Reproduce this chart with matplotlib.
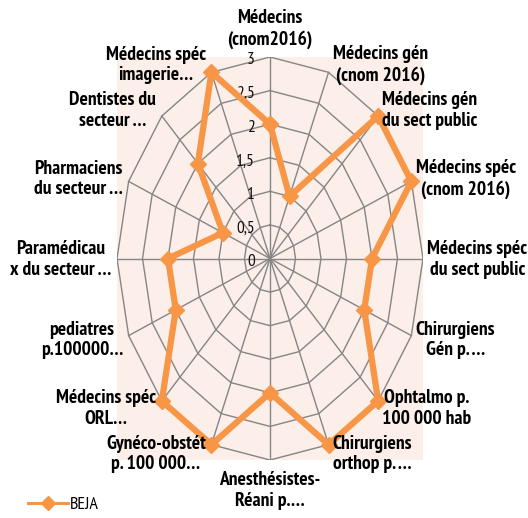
import numpy as np
import matplotlib
matplotlib.use('Agg')
import matplotlib.pyplot as plt
from matplotlib import font_manager
from matplotlib.lines import Line2D

# categories, clockwise from the top
categories = ['Médecins\n(cnom2016)', 'Médecins gén\n(cnom 2016)', 'Médecins gén\ndu sect public',
              'Médecins spéc\n(cnom 2016)', 'Médecins spéc\ndu sect public', 'Chirurgiens\nGén p. …',
              'Ophtalmo p.\n100 000 hab', 'Chirurgiens\northop p. …', 'Anesthésistes-\nRéani p.…',
              'Gynéco-obstét\np. 100 000…', 'Médecins spéc\nORL…', 'pediatres\np.100000…',
              'Paramédicau\nx du secteur …', 'Pharmaciens\ndu secteur …', 'Dentistes du\nsecteur …',
              'Médecins spéc\nimagerie…']
beja = [2, 1, 3, 3, 2, 2, 3, 3, 2, 3, 3, 2, 2, 1, 2, 3]
ticks = [0, 0.5, 1, 1.5, 2, 2.5, 3]
tick_labels = ['0', '0,5', '1', '1,5', '2', '2,5', '3']
series_name = 'BEJA'

# a narrow face, the original labels are squeezed horizontally
installed = {f.name for f in font_manager.fontManager.ttflist}
narrow = 'DejaVu Sans'
for cand in ['PT Sans Narrow', 'Liberation Sans Narrow', 'Archivo Narrow', 'Roboto Condensed',
             'Fira Sans Condensed', 'Open Sans Condensed', 'Asap Condensed', 'Barlow Semi Condensed']:
    if cand in installed:
        narrow = cand
        break
plt.rcParams['font.family'] = [narrow, 'DejaVu Sans']

orange = '#F79646'
grid_col = '#858585'
rmax = ticks[-1]
lab_size = 14 if narrow != 'DejaVu Sans' else 10
lsp = 1.2

fig = plt.figure(figsize=(5.28, 5.18), dpi=100)
# plot area box (bounding box of the outer ring)
ax = fig.add_axes([117/528, 58/518, 306/528, 403/518])
ax.set_facecolor('#FCEEE8')
for s in ax.spines.values():
    s.set_visible(False)
ax.set_xticks([])
ax.set_yticks([])
ax.set_xlim(-rmax, rmax)
ax.set_ylim(-rmax, rmax)

n = len(categories)
theta = 2*np.pi*np.arange(n)/n
sx, sy = np.sin(theta), np.cos(theta)

# grid rings and spokes
for r in ticks[1:]:
    ax.plot(np.append(r*sx, r*sx[0]), np.append(r*sy, r*sy[0]), color=grid_col, lw=1.0, zorder=1)
for i in range(n):
    ax.plot([0, rmax*sx[i]], [0, rmax*sy[i]], color=grid_col, lw=1.0, zorder=1)

# value labels along the top spoke
for t, lab in zip(ticks, tick_labels):
    ax.annotate(lab, (0, t), xytext=(-11, -2.5), textcoords='offset points',
                ha='right', va='center', fontsize=12.5, color='#111111', annotation_clip=False)

# series
v = np.array(beja, dtype=float)
ax.plot(np.append(v*sx, v[0]*sx[0]), np.append(v*sy, v[0]*sy[0]), color=orange, lw=4.5,
        marker='D', ms=8, mec=orange, mfc=orange, zorder=3, solid_joinstyle='miter')

# category labels
for i, lab in enumerate(categories):
    xy = (rmax*sx[i], rmax*sy[i])
    if abs(sx[i]) < 1e-6:
        if sy[i] > 0:
            ax.annotate(lab, xy, xytext=(0, 6), textcoords='offset points', ha='center', va='bottom',
                        multialignment='center', fontsize=lab_size, fontweight='bold',
                        linespacing=lsp, annotation_clip=False)
        else:
            ax.annotate(lab, xy, xytext=(0, -8), textcoords='offset points', ha='center', va='top',
                        multialignment='center', fontsize=lab_size, fontweight='bold',
                        linespacing=lsp, annotation_clip=False)
        continue
    dy = (-1 + 9*sy[i]) * 0.72
    dx = 3 if sx[i] > 0 else -4
    ax.annotate(lab, xy, xytext=(dx, dy), textcoords='offset points',
                ha='left' if sx[i] > 0 else 'right', va='center', multialignment='center',
                fontsize=lab_size, fontweight='bold', linespacing=lsp, annotation_clip=False)

handle = Line2D([], [], color=orange, lw=2.2, marker='D', ms=7, mec=orange, mfc=orange)
fig.legend([handle], [series_name], loc='center left', bbox_to_anchor=(28/528, 13/518),
           frameon=False, fontsize=13, handlelength=2.2, handletextpad=0.1,
           borderpad=0, borderaxespad=0)

fig.savefig('out.png', dpi=100, facecolor='white')
